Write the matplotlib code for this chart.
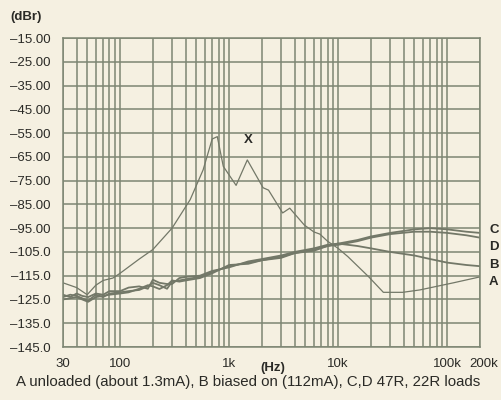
import matplotlib.pyplot as plt
import matplotlib.transforms as mtransforms
import numpy as np
from matplotlib.ticker import FixedLocator, NullFormatter

# curve A (unloaded) - the one with the peaks
freq_a = [30, 40, 50, 60, 70, 86, 100, 150, 200, 300, 440, 578, 700, 780, 885,
          1160, 1470, 2050, 2300, 3100, 3600, 4900, 6000, 6800, 8000, 10000,
          12300, 19100, 26000, 39000, 56000, 114000, 200000]
db_a = [-118, -120, -123, -119, -117, -116, -114, -108, -104, -95, -83, -70.5,
        -57.5, -56.5, -69, -77, -66.3, -78, -79, -88.6, -86.6, -93.7, -96.6,
        -97.5, -100.5, -103.5, -107, -115.5, -122, -122, -121, -118, -115.5]

# B, C, D share the low end, split above ~10k
freq_bcd = [30, 35, 40, 45, 51, 60, 70, 80, 100, 120, 150, 180, 200, 230, 270,
            300, 350, 400, 540, 700, 1000, 1500, 2000, 3000, 4000, 6000, 8000,
            10000, 15000, 20000, 30000, 50000, 70000, 100000, 150000, 200000]
db_b = [-124, -123, -123.5, -124.5, -125.5, -123, -124, -122.5, -122, -121.5,
        -121, -119.5, -118, -119, -120.5, -117.5, -117, -116.5, -115.5, -113.5,
        -111, -109.5, -108.5, -107, -105.5, -104, -102.5, -101.5, -102.5,
        -103.5, -105, -106.5, -108, -109.5, -110.5, -111]
db_c = [-123, -124, -122.5, -123.5, -124, -122.5, -123, -121.5, -121.5, -120,
        -119.5, -120.5, -116.7, -118, -118.5, -118.5, -116, -115.5, -115,
        -113, -111.5, -109, -108, -106.5, -105, -103.5, -102, -101.5, -100,
        -98.5, -97, -95.5, -95, -95.5, -96.5, -97]
db_d = [-125, -124.5, -124, -125, -126, -124, -123.5, -123, -122.5, -122,
        -120.5, -119, -119.5, -120.6, -119, -117, -117.5, -117, -116, -114,
        -110.5, -110, -108.5, -107.5, -105.5, -104.5, -102.5, -102, -100.5,
        -99, -97.5, -96.5, -96.5, -97, -98, -99]

xticks = [30, 100, 1000, 10000, 100000, 200000]
xtick_labels = ['30', '100', '1k', '10k', '100k', '200k']
yticks = list(range(-15, -146, -10))
ytick_labels = ['\u201315.00', '\u201325.00', '\u201335.00', '\u201345.00',
                '\u201355.00', '\u201365.00', '\u201375.00', '\u201385.00',
                '\u201395.00', '\u2013105.0', '\u2013115.0', '\u2013125.0',
                '\u2013135.0', '\u2013145.0']

plt.rcParams['font.family'] = ['Liberation Sans', 'DejaVu Sans']

bg = '#f5f0e1'
gridc = '#7d8673'
linec = '#737868'
txt = '#2a2a26'

fig = plt.figure(figsize=(5.01, 4.0), dpi=100, facecolor=bg)
ax = fig.add_axes([63/501, 1-347/400, 417/501, 309/400])
ax.set_facecolor(bg)

ax.plot(freq_a, db_a, color=linec, lw=0.9)
ax.plot(freq_bcd, db_b, color=linec, lw=1.3)
ax.plot(freq_bcd, db_c, color=linec, lw=1.3)
ax.plot(freq_bcd, db_d, color=linec, lw=1.3)

ax.set_xscale('log')
ax.set_xlim(30, 200000)
ax.set_ylim(-145, -15)

minor = [m * 10**e for e in range(1, 6) for m in range(2, 10)]
minor = [v for v in minor if 30 < v < 200000]
ax.xaxis.set_major_locator(FixedLocator(xticks))
ax.xaxis.set_minor_locator(FixedLocator(minor))
ax.xaxis.set_minor_formatter(NullFormatter())
ax.set_xticklabels(xtick_labels)
ax.set_yticks(yticks)
ax.set_yticklabels(ytick_labels)

ax.grid(True, which='both', color=gridc, lw=1.1)
ax.set_axisbelow(True)
ax.tick_params(which='both', length=0, colors=txt, labelsize=9.5)
ax.tick_params(axis='y', pad=9)
ax.tick_params(axis='x', pad=8)
for s in ax.spines.values():
    s.set_color(gridc)
    s.set_linewidth(1.1)
# nudge the 200k label a bit right, like the original
lab200 = ax.get_xticklabels()[-1]
lab200.set_transform(lab200.get_transform() +
                     mtransforms.ScaledTranslation(4/100, 0, fig.dpi_scale_trans))

fig.text(10/501, 1-17/400, '(dBr)', fontsize=9.5, fontweight='bold', color=txt,
         va='center', ha='left')
fig.text(273/501, 1-368/400, '(Hz)', fontsize=9.5, fontweight='bold', color=txt,
         va='center', ha='center')
ax.text(1500, -58, 'X', fontsize=9.5, fontweight='bold', color=txt,
        ha='center', va='center')

for lab, yy in [('C', 230), ('D', 247), ('B', 265), ('A', 282)]:
    fig.text(489/501, 1-yy/400, lab, fontsize=9.5, fontweight='bold', color=txt,
             va='center', ha='left')

fig.text(248/501, 1-382/400,
         'A unloaded (about 1.3mA), B biased on (112mA), C,D 47R, 22R loads',
         fontsize=10.8, color=txt, ha='center', va='center')

fig.savefig('out.png', dpi=100, facecolor=bg)
